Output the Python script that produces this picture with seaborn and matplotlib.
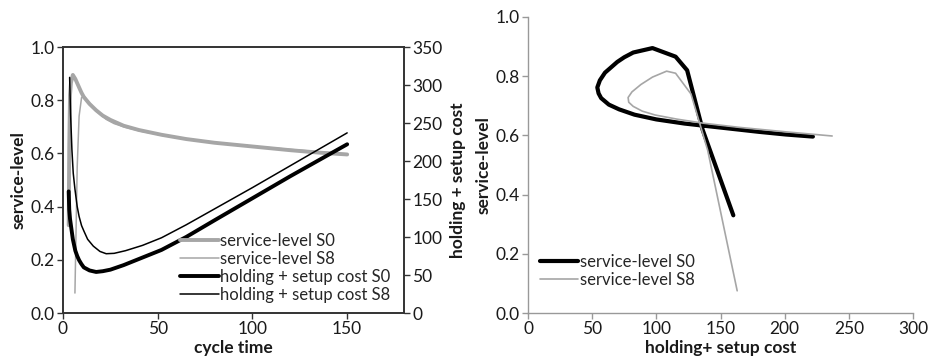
import numpy as np
import pandas as pd
import matplotlib
matplotlib.use("Agg")
import matplotlib.pyplot as plt
import seaborn as sns

# Scenario S0: cycle time, holding + setup cost, service level
t_s0 = [3.0, 3.3, 3.7, 4.2, 5.2, 6.5, 7.5, 8.5, 9.7, 11, 14, 17.5, 21, 25, 32, 40, 52, 65, 80, 100, 120, 135, 150]
cost_s0 = [160, 136, 124, 115, 97, 82, 75, 69.5, 64.5, 60, 56, 54, 55, 57, 63, 71, 83, 100, 122, 151, 180, 201, 222]
sl_s0 = [0.33, 0.62, 0.82, 0.866, 0.895, 0.88, 0.864, 0.848, 0.829, 0.812, 0.786, 0.762, 0.742, 0.726, 0.704,
         0.688, 0.670, 0.654, 0.640, 0.626, 0.612, 0.603, 0.596]

# Scenario S8 (service level undefined for the shortest cycle times)
t_s8 = [3.5, 4, 4.7, 5.4, 6.3, 7.5, 8.5, 9.8, 11, 13, 16, 19.5, 22.8, 27, 33, 42, 52, 65, 80, 100, 125, 150]
cost_s8 = [310, 262, 215, 184, 163, 140, 127, 115, 108, 97, 88, 81, 78, 78.5, 82, 89, 99, 116, 137, 165, 201, 237]
sl_s8 = [np.nan, np.nan, np.nan, np.nan, 0.075, 0.55, 0.74, 0.81, 0.817, 0.797, 0.772, 0.747, 0.728,
         0.712, 0.698, 0.682, 0.669, 0.655, 0.641, 0.627, 0.612, 0.598]

df0 = pd.DataFrame({"t": t_s0, "cost": cost_s0, "sl": sl_s0})
df8 = pd.DataFrame({"t": t_s8, "cost": cost_s8, "sl": sl_s8})

sns.set_theme(style="white")
plt.rcParams["font.family"] = ["Lato", "DejaVu Sans"]
plt.rcParams["font.size"] = 12

GREY = "#a6a6a6"
TXT = "#1a1a1a"
TICK_FS = 12.5
LEG_FS = 12
LAB_FS = 12.5

fig = plt.figure(figsize=(9.29, 3.63), dpi=100)

# ---------- left panel: service level and cost over cycle time ----------
ax = fig.add_axes([63 / 929, 50 / 363, (404 - 63) / 929, (313 - 47) / 363])
ax2 = ax.twinx()

sns.lineplot(data=df0, x="t", y="sl", ax=ax, color=GREY, lw=2.8, sort=False,
             estimator=None, label="service-level S0", legend=False)
sns.lineplot(data=df8.dropna(), x="t", y="sl", ax=ax, color=GREY, lw=1.1, sort=False,
             estimator=None, label="service-level S8", legend=False)
sns.lineplot(data=df0, x="t", y="cost", ax=ax2, color="black", lw=2.8, sort=False,
             estimator=None, label="holding + setup cost S0", legend=False)
sns.lineplot(data=df8, x="t", y="cost", ax=ax2, color="black", lw=1.1, sort=False,
             estimator=None, label="holding + setup cost S8", legend=False)

ax.set_xlim(0, 180)
ax.set_ylim(0, 1.0)
ax2.set_ylim(0, 350)
ax.set_xticks([0, 50, 100, 150])
ax.set_yticks(np.arange(0, 1.01, 0.2))
ax.set_yticklabels([f"{v:.1f}" for v in np.arange(0, 1.01, 0.2)])
ax2.set_yticks(range(0, 351, 50))
ax.set_xlabel("cycle time", fontweight="bold", color=TXT, labelpad=2, fontsize=LAB_FS)
ax.set_ylabel("service-level", fontweight="bold", color=TXT, labelpad=3, fontsize=LAB_FS)
ax2.set_ylabel("holding + setup cost", fontweight="bold", color=TXT, labelpad=5, fontsize=LAB_FS)

for a in (ax, ax2):
    for s in a.spines.values():
        s.set_color("#333333")
        s.set_linewidth(1.2)
    a.tick_params(direction="out", length=4, width=1, color="#333333",
                  labelcolor=TXT, labelsize=TICK_FS, pad=2)
ax.tick_params(axis="both", left=True, bottom=True)
ax2.tick_params(axis="y", right=True)

h1, l1 = ax.get_legend_handles_labels()
h2, l2 = ax2.get_legend_handles_labels()
ax2.legend(h1 + h2, l1 + l2, loc="lower right", bbox_to_anchor=(0.99, 0.0),
           frameon=False, fontsize=LEG_FS, handlelength=2.3, handletextpad=0.1,
           labelspacing=0.12, borderaxespad=0.2)

# ---------- right panel: service level versus cost ----------
bx = fig.add_axes([528 / 929, 50 / 363, (913 - 528) / 929, (313 - 17) / 363])
sns.lineplot(data=df0, x="cost", y="sl", ax=bx, color="black", lw=3.0, sort=False,
             estimator=None, label="service-level S0")
sns.lineplot(data=df8.dropna(), x="cost", y="sl", ax=bx, color=GREY, lw=1.2, sort=False,
             estimator=None, label="service-level S8")
bx.set_xlim(0, 300)
bx.set_ylim(0, 1.0)
bx.set_xticks(range(0, 301, 50))
bx.set_yticks(np.arange(0, 1.01, 0.2))
bx.set_yticklabels([f"{v:.1f}" for v in np.arange(0, 1.01, 0.2)])
bx.set_xlabel("holding+ setup cost", fontweight="bold", color=TXT, labelpad=2, fontsize=LAB_FS)
bx.set_ylabel("service-level", fontweight="bold", color=TXT, labelpad=3, fontsize=LAB_FS)
for side in ("top", "right"):
    bx.spines[side].set_visible(False)
for side in ("left", "bottom"):
    bx.spines[side].set_color("#999999")
    bx.spines[side].set_linewidth(1.0)
bx.tick_params(direction="out", length=4, width=1, color="#999999",
               labelcolor=TXT, labelsize=TICK_FS, pad=2, left=True, bottom=True)
bx.legend(loc="lower left", bbox_to_anchor=(0.0, 0.045), frameon=False, fontsize=LEG_FS,
          handlelength=2.3, handletextpad=0.1, labelspacing=0.12, borderaxespad=0.3)

fig.savefig("out.png", dpi=100)
